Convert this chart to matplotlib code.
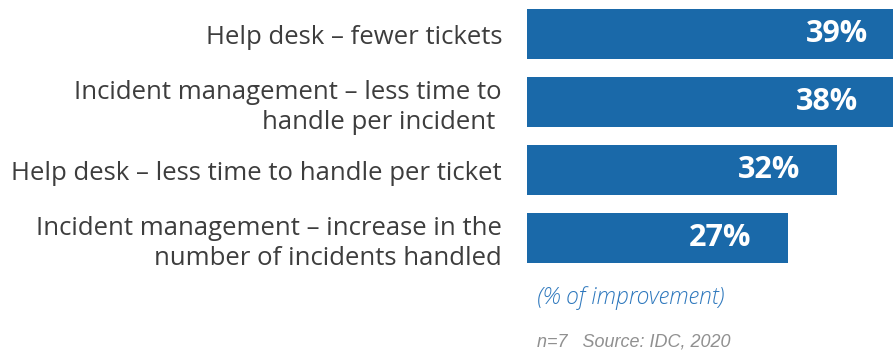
import matplotlib.pyplot as plt

categories = [
    "Help desk \u2013 fewer tickets",
    "Incident management \u2013 less time to\nhandle per incident ",
    "Help desk \u2013 less time to handle per ticket",
    "Incident management \u2013 increase in the\nnumber of incidents handled",
]
values = [39, 38, 32, 27]
value_labels = ["39%", "38%", "32%", "27%"]

BAR_COLOR = "#1a69a9"
TEXT_COLOR = "#3d3d3d"

plt.rcParams['font.family'] = ['Open Sans', 'DejaVu Sans']

fig = plt.figure(figsize=(8.93, 3.51), dpi=100)
ax = fig.add_axes([527 / 893, 1 - 272 / 351, 1 - 527 / 893, 272 / 351])

pos = list(range(len(values)))
ax.barh(pos, values, height=0.735, color=BAR_COLOR)
ax.set_xlim(0, 37.8)
ax.set_ylim(3.5, -0.5)

# value labels inside the bars
for p, v, lab in zip(pos, values, value_labels):
    ax.annotate(lab, xy=(v, p), xytext=(-49, 0), textcoords='offset points',
                ha='center', va='center', color='white', fontsize=22,
                fontweight='bold', annotation_clip=False)

ax.set_yticks(pos)
ax.set_yticklabels(categories, fontsize=18.5, color=TEXT_COLOR,
                   linespacing=1.25)
ax.tick_params(axis='y', length=0, pad=18)
ax.set_xticks([])
for s in ax.spines.values():
    s.set_visible(False)

fig.text(537 / 893, 1 - 298 / 351, "(% of improvement)", color="#2e78bd",
         fontsize=16.5, style='italic', fontweight='light', va='center')
fig.text(537 / 893, 1 - 342 / 351, "n=7   Source: IDC, 2020", color="#909090",
         fontsize=13, style='italic', va='center', family=['Liberation Sans', 'DejaVu Sans'])

fig.savefig("out.png", dpi=100)
